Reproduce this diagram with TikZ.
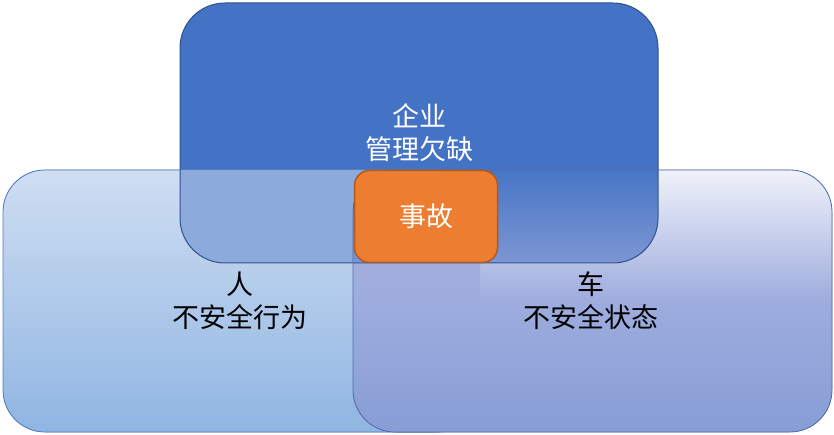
\documentclass[tikz,border=0pt]{standalone}
\usepackage{fontspec}
\newfontfamily\cjk{Noto Sans CJK SC}

\definecolor{mgmtblue}{RGB}{68,114,196}
\definecolor{mgmtedge}{RGB}{47,82,143}
\definecolor{humantop}{RGB}{207,222,242}
\definecolor{humanbot}{RGB}{143,181,226}
\definecolor{humanedge}{RGB}{78,122,198}
\definecolor{cartop}{RGB}{240,242,250}
\definecolor{carmid}{RGB}{158,172,222}
\definecolor{carbot}{RGB}{135,157,213}
\definecolor{caredge}{RGB}{80,108,175}
\definecolor{mgmthuman}{RGB}{141,170,220}
\definecolor{mgmtcartop}{RGB}{72,117,198}
\definecolor{mgmtcarbot}{RGB}{125,150,210}
\definecolor{humancar}{RGB}{161,173,221}
\definecolor{accfill}{RGB}{237,125,49}
\definecolor{accedge}{RGB}{174,90,33}

\begin{document}
\begin{tikzpicture}[x=1pt,y=-1pt,
    cjktext/.style={font=\cjk\fontsize{27}{33}\selectfont, align=center}]
    \useasboundingbox (0,0) rectangle (834,435);

    % management box
    \fill[mgmtblue, rounded corners=45pt] (180,3) rectangle (658,263);
    % human box
    \filldraw[top color=humantop, bottom color=humanbot, draw=humanedge, line width=0.8pt, rounded corners=42pt] (3,170) rectangle (480,432);
    % car box
    \fill[top color=cartop, bottom color=carbot, middle color=carmid, rounded corners=42pt] (353,170) rectangle (832,432);

    % overlap management / human
    \begin{scope}
        \clip[rounded corners=45pt] (180,3) rectangle (658,263);
        \fill[mgmthuman, rounded corners=42pt] (3,170) rectangle (480,432);
    \end{scope}
    % overlap management / car
    \begin{scope}
        \clip[rounded corners=45pt] (180,3) rectangle (658,263);
        \clip[rounded corners=42pt] (353,170) rectangle (832,432);
        \fill[top color=mgmtcartop, bottom color=mgmtcarbot] (353,170) rectangle (658,263);
    \end{scope}
    % overlap human / car
    \begin{scope}
        \clip[rounded corners=42pt] (353,170) rectangle (832,432);
        \fill[top color=humancar, bottom color=carmid] (353,263) rectangle (480,301);
    \end{scope}

    % borders
    \draw[mgmtedge, line width=1pt, rounded corners=45pt] (180,3) rectangle (658,263);
    \draw[caredge, line width=0.8pt, rounded corners=42pt] (353,170) rectangle (832,432);

    % accident
    \node[cjktext, text=white, fill=accfill, draw=accedge, line width=1.5pt, rounded corners=15pt,
          minimum width=143pt, minimum height=92pt, inner sep=0pt] (acc) at (426,216.5) {事故};

    % labels
    \node[cjktext, text=white] (mgmt) at (419,133) {企业\\管理欠缺};
    \node[cjktext] (human) at (240,301) {人\\不安全行为};
    \node[cjktext] (car) at (591,301) {车\\不安全状态};
\end{tikzpicture}
\end{document}
